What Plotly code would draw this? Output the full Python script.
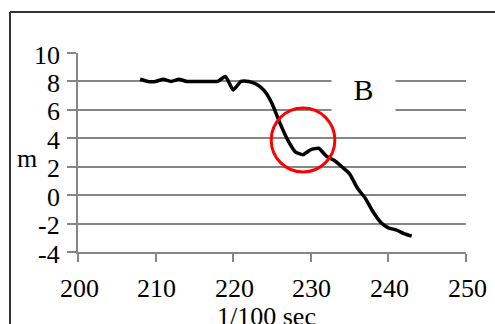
import plotly.graph_objects as go

time_cs = list(range(208, 244))
height_m = [8.15, 8.0, 8.0, 8.15, 8.0, 8.15, 8.0, 8.0, 8.0, 8.0, 8.0, 8.35,
            7.4, 8.0, 8.0, 7.8, 7.35, 6.45, 5.1, 3.9, 3.05, 2.85, 3.2, 3.3,
            2.75, 2.45, 2.0, 1.5, 0.5, -0.2, -1.15, -1.9, -2.3, -2.45, -2.7, -2.88]

x_ticks = [200, 210, 220, 230, 240, 250]
x_tick_labels = ["200", "210", "220", "230", "240", "250"]
y_ticks = [-4, -2, 0, 2, 4, 6, 8, 10]
y_tick_labels = ["-4", "-2", "0", "2", "4", "6", "8", "10"]
label_text = "B"
x_title = "1/100 sec"
y_title = "m"

W, H = 495, 324
L, R, T, B = 78, 29, 53, 72
PW, PH = W - L - R, H - T - B

FONT = "Liberation Serif"

fig = go.Figure()
fig.add_trace(go.Scatter(
    x=time_cs, y=height_m, mode="lines",
    line=dict(color="black", width=3.5, shape="spline", smoothing=0.5),
    hoverinfo="skip", showlegend=False,
))

fig.update_layout(
    width=W, height=H,
    margin=dict(l=L, r=R, t=T, b=B, pad=0),
    paper_bgcolor="white", plot_bgcolor="white",
    font=dict(family=FONT, size=26, color="black"),
    showlegend=False,
)
fig.update_xaxes(
    range=[200, 250], tickvals=x_ticks, showgrid=False, zeroline=False,
    showline=True, linecolor="#868686", linewidth=1.5,
    ticks="outside", ticklen=8, tickwidth=1.5, tickcolor="#868686",
    showticklabels=False,
)
fig.update_yaxes(
    range=[-4, 10], tickvals=y_ticks,
    showgrid=True, gridcolor="#868686", gridwidth=1.5, zeroline=False,
    showline=True, linecolor="#868686", linewidth=1.5,
    ticks="outside", ticklen=9, tickwidth=1.5, tickcolor="#868686",
    showticklabels=False,
)

# tick labels as serif text
for v, t in zip(x_ticks, x_tick_labels):
    fig.add_annotation(text=t, x=v, xref="x", y=(PH - (288 - T)) / PH, yref="paper",
                       showarrow=False, xanchor="center", yanchor="middle",
                       xshift=1, font=dict(family=FONT, size=26, color="black"))
for v, t in zip(y_ticks, y_tick_labels):
    fig.add_annotation(text=t, x=(62 - L) / PW, xref="paper", y=v, yref="y",
                       showarrow=False, xanchor="right", yanchor="middle",
                       yshift=-2, font=dict(family=FONT, size=26, color="black"))

# outer frame (top and left edges visible)
fig.add_shape(type="line", xref="paper", yref="paper",
              x0=(10 - L) / PW, x1=1.2, y0=(H - B - 12) / PH, y1=(H - B - 12) / PH,
              line=dict(color="#333333", width=2))
fig.add_shape(type="line", xref="paper", yref="paper",
              x0=(10 - L) / PW, x1=(10 - L) / PW, y0=(H - B - 12) / PH, y1=-0.5,
              line=dict(color="#333333", width=2))

# red circle highlight
fig.add_shape(type="circle", xref="x", yref="y",
              x0=224.9, x1=233.1, y0=1.63, y1=6.13,
              line=dict(color="red", width=3), layer="above")

# "B" label with white background
fig.add_annotation(text=label_text, x=(363 - L) / PW, y=(H - B - 89) / PH,
                   xref="paper", yref="paper", showarrow=False,
                   xanchor="center", yanchor="middle",
                   font=dict(family=FONT, size=30, color="black"),
                   bgcolor="white", width=55, height=46, borderpad=4)

fig.add_annotation(text=x_title, x=(266 - L) / PW, y=(H - B - 300) / PH,
                   xref="paper", yref="paper", showarrow=False,
                   xanchor="center", yanchor="top",
                   font=dict(family=FONT, size=26, color="black"))
fig.add_annotation(text=y_title, x=(27 - L) / PW, y=(H - B - 158) / PH,
                   xref="paper", yref="paper", showarrow=False,
                   xanchor="center", yanchor="middle",
                   font=dict(family=FONT, size=26, color="black"))

fig.write_html("out.html")
